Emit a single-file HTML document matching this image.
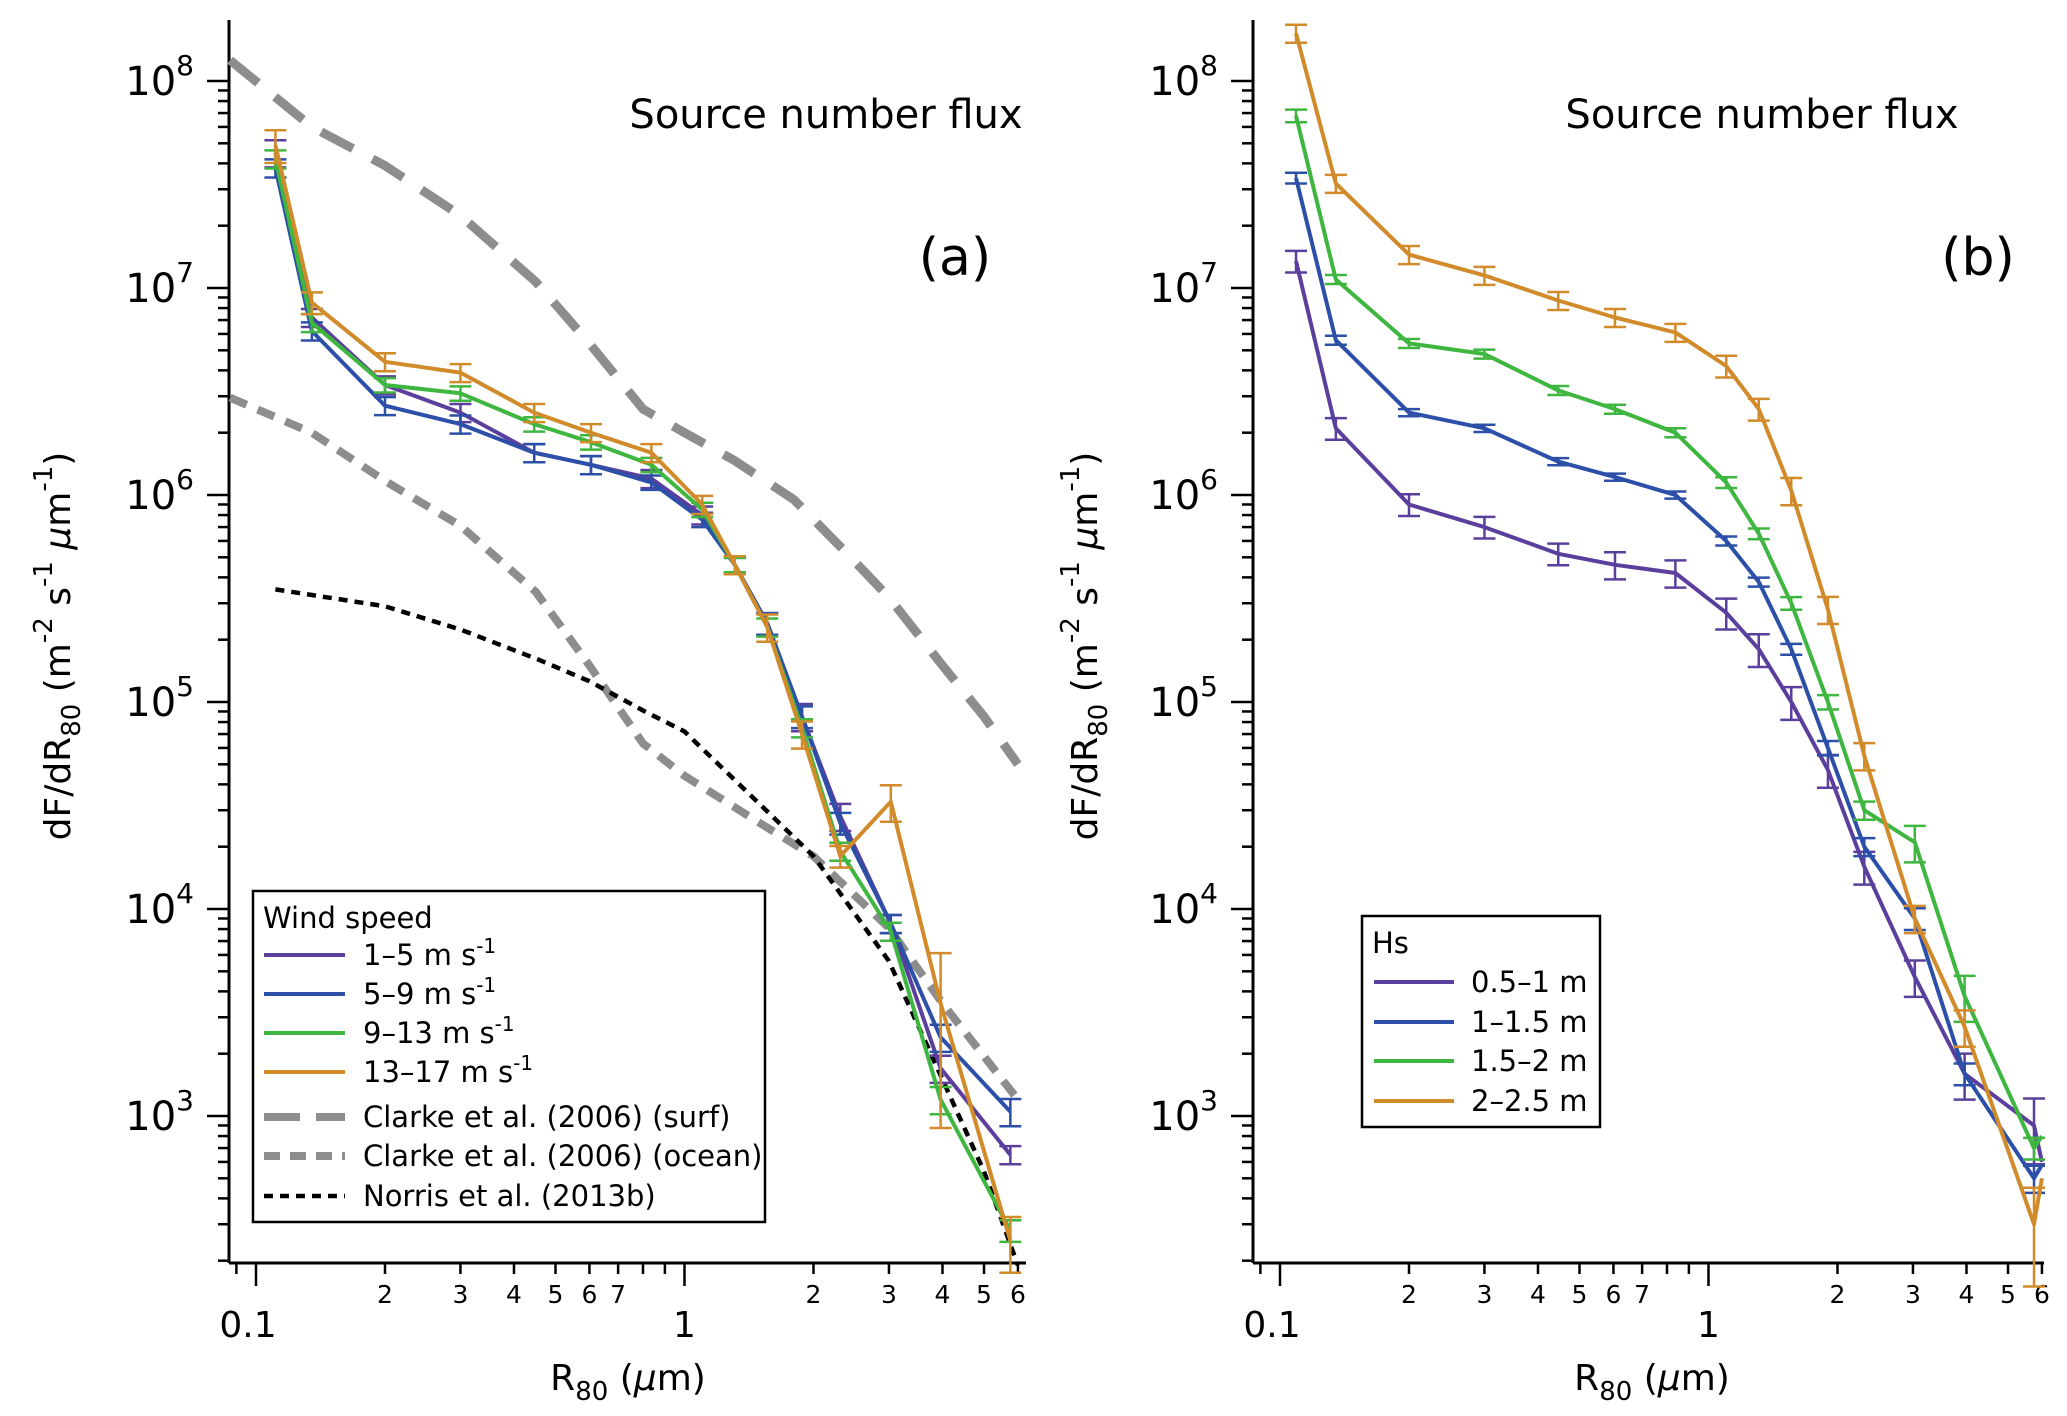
<!DOCTYPE html>
<html><head><meta charset="utf-8">
<style>
html,body{margin:0;padding:0;background:#fff;}
svg{display:block;font-family:"DejaVu Sans","Liberation Sans",sans-serif;}
</style></head>
<body>
<svg id="chart" width="2067" height="1416" viewBox="0 0 2067 1416" xmlns="http://www.w3.org/2000/svg"></svg>
<script>
// ---- data ----
const xA = [0.111,0.135,0.2,0.3,0.446,0.605,0.837,1.1,1.31,1.56,1.88,2.31,3.03,3.96,5.76];
const aPurple = [4.5e7,7.2e6,3.4e6,2.5e6,1.6e6,1.4e6,1.2e6,8e5,4.6e5,2.4e5,8.5e4,2.8e4,8.5e3,1.7e3,6.5e2];
const aBlue   = [3.8e7,6.2e6,2.7e6,2.2e6,1.6e6,1.4e6,1.15e6,7.6e5,4.6e5,2.4e5,8.5e4,2.6e4,8.5e3,2.4e3,1.05e3];
const aGreen  = [4.2e7,6.8e6,3.4e6,3.1e6,2.2e6,1.8e6,1.4e6,8.5e5,4.6e5,2.3e5,7.5e4,1.9e4,7.8e3,1.2e3,2.8e2];
const aOrange = [4.9e7,8.5e6,4.4e6,3.9e6,2.5e6,2.0e6,1.6e6,9e5,4.6e5,2.3e5,7e4,1.8e4,3.3e4,3.5e3,2.5e2];
const aErrPurple = [0.15,0.1,0.1,0.1,0.1,0.1,0.1,0.1,0.1,0.12,0.15,0.15,0.1,0.15,0.1];
const aErrBlue   = [0.1,0.1,0.1,0.1,0.1,0.1,0.08,0.08,0.08,0.12,0.12,0.12,0.1,0.15,0.15];
const aErrGreen  = [0.1,0.1,0.08,0.08,0.08,0.08,0.08,0.08,0.08,0.1,0.1,0.1,0.1,0.15,0.12];
const aErrOrange = [0.18,0.12,0.1,0.1,0.1,0.1,0.1,0.1,0.1,0.15,0.15,0.12,0.2,0.75,0.3];
const surfX = [0.087,0.135,0.2,0.3,0.45,0.6,0.8,1.0,1.3,1.8,2.4,3.0,4.0,5.0,6.0];
const surfY = [1.26e8,6e7,3.9e7,2.24e7,1.07e7,5.4e6,2.6e6,2.0e6,1.48e6,9.5e5,5.2e5,3.2e5,1.5e5,8.5e4,5e4];
const oceanX = [0.087,0.135,0.2,0.3,0.45,0.6,0.8,1.0,1.5,2.0,3.0,4.0,6.0];
const oceanY = [2.95e6,2e6,1.17e6,7.1e5,3.4e5,1.5e5,6.3e4,4.4e4,2.6e4,1.8e4,8.1e3,3.5e3,1.2e3];
const norrisX = [0.111,0.2,0.3,0.45,0.6,0.8,1.0,1.5,2.0,3.0,4.0,5.0,6.0];
const norrisY = [3.5e5,2.9e5,2.24e5,1.62e5,1.26e5,9.1e4,7.2e4,3.2e4,1.8e4,5.6e3,1.5e3,5.4e2,1.9e2];

const xB = [0.109,0.135,0.2,0.3,0.446,0.605,0.837,1.1,1.31,1.56,1.9,2.31,3.03,3.96,5.75,6.0];
const bPurple = [1.35e7,2.1e6,9e5,7e5,5.2e5,4.6e5,4.2e5,2.7e5,1.8e5,1e5,4.7e4,1.6e4,4.7e3,1.6e3,9e2,6e2];
const bBlue   = [3.4e7,5.6e6,2.5e6,2.1e6,1.45e6,1.22e6,1e6,6e5,3.8e5,1.8e5,6e4,2e4,9e3,1.6e3,5e2,5.8e2];
const bGreen  = [6.8e7,1.1e7,5.4e6,4.8e6,3.2e6,2.6e6,2e6,1.15e6,6.5e5,3e5,1e5,3e4,2.1e4,3.8e3,7e2,8e2];
const bOrange = [1.7e8,3.2e7,1.45e7,1.15e7,8.7e6,7.2e6,6.1e6,4.2e6,2.6e6,1.05e6,2.8e5,5.5e4,9e3,2.7e3,3e2,5e2];
const bErrPurple = [0.12,0.12,0.12,0.12,0.12,0.15,0.15,0.17,0.18,0.18,0.18,0.18,0.2,0.25,0.35,0];
const bErrBlue   = [0.06,0.05,0.04,0.04,0.04,0.04,0.04,0.05,0.05,0.06,0.08,0.1,0.12,0.12,0.15,0];
const bErrGreen  = [0.07,0.05,0.05,0.05,0.05,0.05,0.05,0.06,0.06,0.07,0.08,0.1,0.2,0.25,0.12,0];
const bErrOrange = [0.1,0.1,0.1,0.1,0.1,0.1,0.1,0.12,0.12,0.15,0.15,0.15,0.15,0.2,0.5,0];

const xTickMinor = [0.09,0.2,0.3,0.4,0.5,0.6,0.7,0.8,0.9,2,3,4,5,6];
const xTickMinorLabels = ["","2","3","4","5","6","7","","","2","3","4","5","6"];
const xTickMajor = [0.1,1];
const xTickMajorLabels = ["0.1","1"];
const yDecades = [8,7,6,5,4,3];

const COL = {purple:"#5b3f9c", blue:"#2c50a8", green:"#3fb640", orange:"#d18b2b", gray:"#8d8d8d"};
const NS = "http://www.w3.org/2000/svg";
const svg = document.getElementById('chart');
function mk(tag, attrs, parent){
  const e = document.createElementNS(NS, tag);
  for (const k in attrs) e.setAttribute(k, attrs[k]);
  (parent||svg).appendChild(e);
  return e;
}

function panel(opt){
  const g = mk('g', {});
  
  
  const X = v => opt.x01 + (Math.log10(v) + 1) * 428.5;
  const Y = v => 81 + (8 - Math.log10(v)) * 207;
  const left = opt.axisX, right = opt.axisRight, top = 20, bottom = 1263;
  const ya = mk('g', {}, g);
  
  
  mk('line', {x1:left, y1:top, x2:left, y2:bottom, stroke:'#000','stroke-width':3}, ya);
  for (let d = 2; d <= 8; d++) {
    for (let m = 1; m <= 9; m++) {
      const v = m * Math.pow(10, d);
      const y = Y(v);
      if (y < top - 1 || y > bottom) continue;
      const len = (m === 1) ? 22 : 11;
      mk('line', {x1:left-len, y1:y, x2:left, y2:y, stroke:'#000','stroke-width':2.5}, ya);
    }
  }
  yDecades.forEach(d => {
    const t = mk('text', {x:left-35, y:Y(Math.pow(10,d))+14, 'text-anchor':'end', 'font-size':40}, ya);
    
    
    t.textContent = '10';
    const s = mk('tspan', {dy:-20, 'font-size':28}, t);
    s.textContent = String(d);
  });
  const xa = mk('g', {}, g);
  
  
  mk('line', {x1:left, y1:bottom, x2:right, y2:bottom, stroke:'#000','stroke-width':3}, xa);
  xTickMinor.forEach((v,i) => {
    const x = X(v);
    mk('line', {x1:x, y1:bottom, x2:x, y2:bottom+11, stroke:'#000','stroke-width':2.5}, xa);
    if (xTickMinorLabels[i]) {
      const t = mk('text', {x:x, y:bottom+40, 'text-anchor':'middle', 'font-size':25}, xa);
      
      
      t.textContent = xTickMinorLabels[i];
    }
  });
  xTickMajor.forEach((v,i) => {
    const x = X(v);
    mk('line', {x1:x, y1:bottom, x2:x, y2:bottom+23, stroke:'#000','stroke-width':2.5}, xa);
    const t = mk('text', {x: i===0 ? x-8 : x, y:bottom+74, 'text-anchor':'middle', 'font-size':36}, xa);
    
    
    t.textContent = xTickMajorLabels[i];
  });
  const xt = mk('text', {x:opt.xTitleX, y:1390, 'text-anchor':'middle', 'font-size':36}, g);
  
  
  xt.innerHTML = 'R<tspan dy="10" font-size="26">80</tspan><tspan dy="-10"> (</tspan><tspan font-style="italic">μ</tspan>m)';
  const ytl = mk('text', {transform:`translate(${opt.yTitleX},646) rotate(-90)`, 'text-anchor':'middle', 'font-size':36}, g);
  
  
  ytl.innerHTML = 'dF/dR<tspan dy="10" font-size="26">80</tspan><tspan dy="-10"> (m</tspan><tspan dy="-18" font-size="26">-2</tspan><tspan dy="18"> s</tspan><tspan dy="-18" font-size="26">-1</tspan><tspan dy="18"> </tspan><tspan font-style="italic">μ</tspan>m<tspan dy="-18" font-size="26">-1</tspan><tspan dy="18">)</tspan>';
  const tt = mk('text', {x:opt.titleX, y:128, 'text-anchor':'middle', 'font-size':40}, g);
  
  
  tt.textContent = 'Source number flux';
  const pl = mk('text', {x:opt.letterX, y:275, 'text-anchor':'middle', 'font-size':52}, g);
  
  
  pl.textContent = opt.letter;
  (opt.curves||[]).forEach(c => {
    const pts = c.x.map((v,i) => X(v).toFixed(1)+','+Y(c.y[i]).toFixed(1)).join(' ');
    const p = mk('polyline', {points:pts, fill:'none', stroke:c.color, 'stroke-width':c.w, 'stroke-dasharray':c.dash, 'stroke-linejoin':'round'}, g);
    
    
  });
  opt.series.forEach(s => {
    const sg = mk('g', {}, g);
    
    
    s.y.forEach((v,i) => {
      const e = s.err[i];
      if (!e) return;
      const x = X(opt.xs[i]);
      const y1 = Y(v*(1+e)), y2 = Y(Math.max(v*(1-e), 1));
      mk('line', {x1:x, y1:y1, x2:x, y2:y2, stroke:s.color, 'stroke-width':2.5}, sg);
      mk('line', {x1:x-11, y1:y1, x2:x+11, y2:y1, stroke:s.color, 'stroke-width':2.5}, sg);
      mk('line', {x1:x-11, y1:y2, x2:x+11, y2:y2, stroke:s.color, 'stroke-width':2.5}, sg);
    });
    const pts = s.y.map((v,i) => X(opt.xs[i]).toFixed(1)+','+Y(v).toFixed(1)).join(' ');
    const p = mk('polyline', {points:pts, fill:'none', stroke:s.color, 'stroke-width':4, 'stroke-linejoin':'round'}, sg);
    
    
  });
  const L = opt.legend;
  const lg = mk('g', {}, g);
  
  
  mk('rect', {x:L.x, y:L.y, width:L.w, height:L.h, fill:'#fff', stroke:'#000', 'stroke-width':2.5}, lg);
  const ht = mk('text', {x:L.x+10, y:L.titleY, 'font-size':29}, lg);
  
  
  ht.textContent = L.title;
  L.items.forEach(it => {
    const eg = mk('g', {}, lg);
    
    
    mk('line', {x1:L.lx1, y1:it.y, x2:L.lx2, y2:it.y, stroke:it.color, 'stroke-width':it.w||4, 'stroke-dasharray':it.dash||'none'}, eg);
    const t = mk('text', {x:L.tx, y:it.y+10, 'font-size':29}, eg);
    t.innerHTML = it.label;
  });
}

const ms = ' m s<tspan dy="-12" font-size="20">-1</tspan>';
panel({
  name:'panel-a', x01:256, axisX:229, axisRight:1026, xTitleX:628, yTitleX:70,
  titleX:826, letterX:955, letter:'(a)', xs:xA,
  curves:[
    {name:'clarke-surf-curve', x:surfX, y:surfY, color:COL.gray, w:9, dash:'36 22'},
    {name:'clarke-ocean-curve', x:oceanX, y:oceanY, color:COL.gray, w:8, dash:'18 12'},
    {name:'norris-curve', x:norrisX, y:norrisY, color:'#000', w:4.5, dash:'9 7'}
  ],
  series:[
    {name:'series-1-5', y:aPurple, err:aErrPurple, color:COL.purple},
    {name:'series-5-9', y:aBlue, err:aErrBlue, color:COL.blue},
    {name:'series-9-13', y:aGreen, err:aErrGreen, color:COL.green},
    {name:'series-13-17', y:aOrange, err:aErrOrange, color:COL.orange}
  ],
  legend:{x:253, y:891, w:512, h:331, title:'Wind speed', titleY:928, lx1:264, lx2:345, tx:363,
    items:[
      {y:955, color:COL.purple, label:'1–5'+ms},
      {y:994, color:COL.blue, label:'5–9'+ms},
      {y:1033, color:COL.green, label:'9–13'+ms},
      {y:1072, color:COL.orange, label:'13–17'+ms},
      {y:1117, color:COL.gray, w:8, dash:'36 16', label:'Clarke et al. (2006) (surf)'},
      {y:1156, color:COL.gray, w:8, dash:'16 10', label:'Clarke et al. (2006) (ocean)'},
      {y:1196, color:'#000', w:4.5, dash:'9 7', label:'Norris et al. (2013b)'}
    ]}
});
panel({
  name:'panel-b', x01:1280, axisX:1253, axisRight:2044, xTitleX:1652, yTitleX:1097,
  titleX:1762, letterX:1978, letter:'(b)', xs:xB,
  series:[
    {name:'series-hs-0.5-1', y:bPurple, err:bErrPurple, color:COL.purple},
    {name:'series-hs-1-1.5', y:bBlue, err:bErrBlue, color:COL.blue},
    {name:'series-hs-1.5-2', y:bGreen, err:bErrGreen, color:COL.green},
    {name:'series-hs-2-2.5', y:bOrange, err:bErrOrange, color:COL.orange}
  ],
  legend:{x:1362, y:916, w:238, h:211, title:'Hs', titleY:953, lx1:1374, lx2:1454, tx:1471,
    items:[
      {y:982, color:COL.purple, label:'0.5–1 m'},
      {y:1022, color:COL.blue, label:'1–1.5 m'},
      {y:1061, color:COL.green, label:'1.5–2 m'},
      {y:1101, color:COL.orange, label:'2–2.5 m'}
    ]}
});
</script>
</body></html>
